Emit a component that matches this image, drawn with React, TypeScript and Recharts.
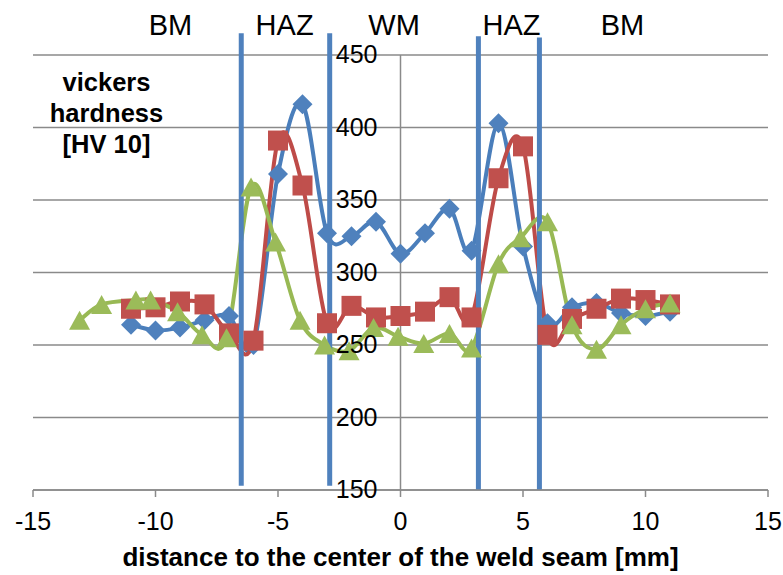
import React from 'react';
import {
  ComposedChart,
  Line,
  XAxis,
  YAxis,
  CartesianGrid,
  ReferenceLine,
  ReferenceDot,
} from 'recharts';

// ---- data ----
const blueX = [-11, -10, -9, -8, -7, -6, -5, -4, -3, -2, -1, 0, 1, 2, 2.9, 4, 5, 6, 7, 8, 9, 10, 11];
const blueHV = [264, 260, 262, 267, 270, 250, 368, 416, 327, 325, 335, 313, 327, 344, 315, 403, 318, 265, 276, 279, 272, 270, 273];

const redX = [-11, -10, -9, -8, -7, -6, -5, -4, -3, -2, -1, 0, 1, 2, 2.9, 4, 5, 6, 7, 8, 9, 10, 11];
const redHV = [275, 276, 280, 278, 258, 253, 391, 360, 265, 277, 269, 270, 273, 283, 269, 365, 387, 257, 268, 275, 282, 281, 278];

const greenX = [-13.1, -12.2, -10.8, -10.2, -9.1, -8.1, -7.1, -6.1, -5.1, -4.1, -3.1, -2.1, -1.1, -0.1, 0.95, 2, 2.9, 4, 4.9, 6, 7, 8, 9, 10, 11];
const greenHV = [267, 278, 281, 281, 273, 257, 255, 359, 321, 267, 250, 246, 262, 256, 251, 258, 248, 306, 324, 335, 264, 247, 264, 275, 279];

const xTicks = [-15, -10, -5, 0, 5, 10, 15];
const yTicks = [150, 200, 250, 300, 350, 400, 450];

const zoneLabels = ['BM', 'HAZ', 'WM', 'HAZ', 'BM'];
const zoneLabelX = [-9.39, -4.73, -0.26, 4.53, 9.06];
const zoneLabelHV = 471;

const boundaryX = [-6.5, -2.89, 3.18, 5.67];
const boundaryTop = [465, 465, 463, 462];
const boundaryBottom = [153, 153, 150, 150];

const yTitleLines = ['vickers', 'hardness', '[HV 10]'];
const yTitleX = -12.0;
const yTitleHV = 404;
const xTitle = 'distance to the center of the weld seam [mm]';

const X_DOMAIN: [number, number] = [-15, 15];
const Y_DOMAIN: [number, number] = [150, 450];

// ---- layout ----
const W = 775;
const H = 567;
const Y_AXIS_W = 1;
const MARGIN = { top: 47, right: 15, bottom: 25, left: 24 };
const PLOT_LEFT = MARGIN.left + Y_AXIS_W;
const PLOT_W = W - PLOT_LEFT - MARGIN.right;
const AXIS_X = PLOT_LEFT + (PLOT_W * (0 - X_DOMAIN[0])) / (X_DOMAIN[1] - X_DOMAIN[0]);

const FONT = '"Liberation Sans", Arial, sans-serif';
const GRID = '#8a8a8a';
const BLUE = '#4A7EBB';
const BLUE_M = '#4F81BD';
const RED = '#BE4B48';
const RED_M = '#C0504D';
const GREEN = '#98B954';
const GREEN_M = '#9BBB59';
const ZONE = '#4F81BD';

const toRows = (xs: number[], ys: number[]) => xs.map((x, i) => ({ x, hv: ys[i] }));
const blueData = toRows(blueX, blueHV);
const redData = toRows(redX, redHV);
const greenData = toRows(greenX, greenHV);

// Excel-like smoothed line (Catmull-Rom as cubic Bezier)
function excelSmooth(context: any) {
  let pts: number[][] = [];
  return {
    areaStart() {},
    areaEnd() {},
    lineStart() {
      pts = [];
    },
    point(x: number, y: number) {
      pts.push([+x, +y]);
    },
    lineEnd() {
      const n = pts.length;
      if (!n) return;
      context.moveTo(pts[0][0], pts[0][1]);
      for (let i = 0; i < n - 1; i++) {
        const p0 = pts[i > 0 ? i - 1 : i];
        const p1 = pts[i];
        const p2 = pts[i + 1];
        const p3 = pts[i + 2 < n ? i + 2 : i + 1];
        context.bezierCurveTo(
          p1[0] + (p2[0] - p0[0]) / 6,
          p1[1] + (p2[1] - p0[1]) / 6,
          p2[0] - (p3[0] - p1[0]) / 6,
          p2[1] - (p3[1] - p1[1]) / 6,
          p2[0],
          p2[1]
        );
      }
    },
  };
}

const Diamond = (props: any) => {
  const { cx, cy } = props;
  if (cx == null || cy == null) return <g />;
  const s = 10;
  return <path d={`M${cx},${cy - s}L${cx + s},${cy}L${cx},${cy + s}L${cx - s},${cy}Z`} fill={BLUE_M} />;
};
const Square = (props: any) => {
  const { cx, cy } = props;
  if (cx == null || cy == null) return <g />;
  const s = 10;
  return <rect x={cx - s} y={cy - s} width={2 * s} height={2 * s} fill={RED_M} />;
};
const Triangle = (props: any) => {
  const { cx, cy } = props;
  if (cx == null || cy == null) return <g />;
  const w = 10.5;
  const h = 9.5;
  return <path d={`M${cx},${cy - h}L${cx + w},${cy + h}L${cx - w},${cy + h}Z`} fill={GREEN_M} />;
};

const YTick = (props: any) => {
  const { y, payload } = props;
  return (
    <text x={AXIS_X - 23} y={y} dy={8} textAnchor="end" fontSize={25} fontFamily={FONT} fill="#000">
      {payload.value}
    </text>
  );
};

const ZoneLabel = (text: string) => (props: any) => {
  const vb = props.viewBox || {};
  const cx = (vb.x || 0) + (vb.width || 0) / 2;
  const cy = (vb.y || 0) + (vb.height || 0) / 2;
  return (
    <text x={cx} y={cy} dy={10} textAnchor="middle" fontSize={29} fontFamily={FONT} fill="#000">
      {text}
    </text>
  );
};

const YTitle = (props: any) => {
  const vb = props.viewBox || {};
  const cx = (vb.x || 0) + (vb.width || 0) / 2;
  const cy = (vb.y || 0) + (vb.height || 0) / 2;
  return (
    <text textAnchor="middle" fontSize={25.5} fontWeight="bold" fontFamily={FONT} fill="#000">
      {yTitleLines.map((l, i) => (
        <tspan key={i} x={cx} y={cy + (i - 1) * 31}>
          {l}
        </tspan>
      ))}
    </text>
  );
};

const XTitle = (props: any) => {
  const vb = props.viewBox || {};
  const cx = (vb.x || 0) + (vb.width || 0) / 2;
  return (
    <text x={cx} y={(vb.y || 0) + 76} textAnchor="middle" fontSize={26} fontWeight="bold" fontFamily={FONT} fill="#000">
      {xTitle}
    </text>
  );
};

export default function App() {
  return (
    <div style={{ position: 'absolute', left: 8, top: 8, width: W, height: H }}>
      <ComposedChart width={W} height={H} margin={MARGIN}>
        <CartesianGrid horizontal vertical={false} stroke={GRID} strokeWidth={1.5} />
        <XAxis
          type="number"
          dataKey="x"
          domain={X_DOMAIN}
          ticks={xTicks}
          allowDataOverflow
          height={60}
          tickSize={7}
          tickMargin={15}
          stroke={GRID}
          strokeWidth={1.5}
          tick={{ fill: '#000', fontSize: 25, fontFamily: FONT }}
          label={{ content: XTitle }}
        />
        <YAxis
          type="number"
          dataKey="hv"
          domain={Y_DOMAIN}
          ticks={yTicks}
          allowDataOverflow
          width={Y_AXIS_W}
          axisLine={false}
          tickLine={false}
          tick={YTick}
        />
        <ReferenceLine x={0} stroke={GRID} strokeWidth={1.5} />
        <Line
          data={blueData}
          dataKey="hv"
          type={excelSmooth as any}
          stroke={BLUE}
          strokeWidth={4}
          dot={Diamond}
          activeDot={false}
          isAnimationActive={false}
        />
        <Line
          data={redData}
          dataKey="hv"
          type={excelSmooth as any}
          stroke={RED}
          strokeWidth={4}
          dot={Square}
          activeDot={false}
          isAnimationActive={false}
        />
        <Line
          data={greenData}
          dataKey="hv"
          type={excelSmooth as any}
          stroke={GREEN}
          strokeWidth={4}
          dot={Triangle}
          activeDot={false}
          isAnimationActive={false}
        />
        {boundaryX.map((bx, i) => (
          <ReferenceLine
            key={`b${i}`}
            segment={[
              { x: bx, y: boundaryBottom[i] },
              { x: bx, y: boundaryTop[i] },
            ]}
            stroke={ZONE}
            strokeWidth={5}
            ifOverflow="visible"
          />
        ))}
        {zoneLabels.map((t, i) => (
          <ReferenceDot
            key={`z${i}`}
            x={zoneLabelX[i]}
            y={zoneLabelHV}
            r={0}
            fill="none"
            stroke="none"
            ifOverflow="visible"
            label={{ content: ZoneLabel(t) }}
          />
        ))}
        <ReferenceDot
          x={yTitleX}
          y={yTitleHV}
          r={0}
          fill="none"
          stroke="none"
          ifOverflow="visible"
          label={{ content: YTitle }}
        />
      </ComposedChart>
    </div>
  );
}
